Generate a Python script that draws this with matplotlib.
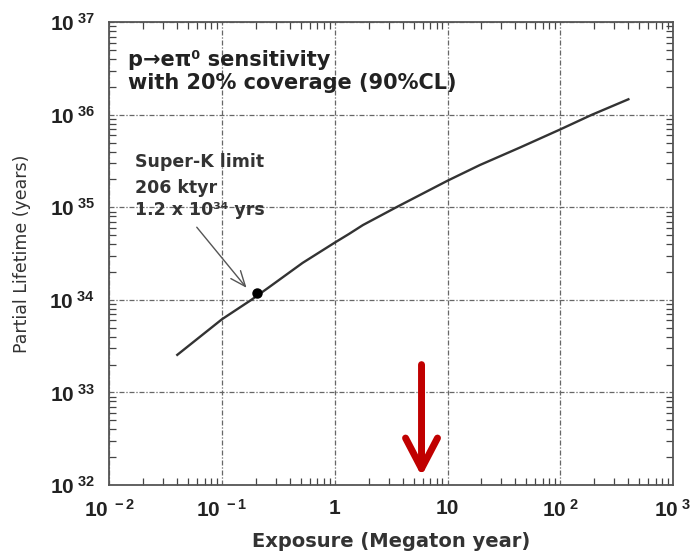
import numpy as np
import matplotlib.pyplot as plt
from matplotlib.ticker import LogLocator, FixedLocator, NullFormatter

plt.rcParams['font.family'] = ['Liberation Sans', 'DejaVu Sans']
plt.rcParams['font.weight'] = 'bold'
plt.rcParams['mathtext.fontset'] = 'custom'
plt.rcParams['mathtext.rm'] = 'Liberation Sans:bold'
plt.rcParams['mathtext.it'] = 'Liberation Sans:bold'
plt.rcParams['mathtext.bf'] = 'Liberation Sans:bold'

WIDE = ['DejaVu Sans']

# sensitivity curve: exposure (Mt yr) vs partial lifetime (years)
exposure = [0.0401, 0.1, 0.1816, 0.263, 0.518, 1.0, 1.337, 1.778, 3.50,
            10.0, 19.3, 44.3, 100.0, 190.5, 401.8]
lifetime = [2.55e33, 6.19e33, 1.0e34, 1.38e34, 2.51e34, 4.16e34, 5.16e34, 6.44e34, 1.0e35,
            1.94e35, 2.86e35, 4.45e35, 6.95e35, 1.0e36, 1.47e36]

# Super-K point
sk_exposure = 0.206
sk_lifetime = 1.2e34

x_ticks = [1e-2, 1e-1, 1, 10, 1e2, 1e3]
x_labels = [r'$10^{\ -2}$', r'$10^{\ -1}$', '1', '10', r'$10^{\ 2}$', r'$10^{\ 3}$']
y_ticks = [1e32, 1e33, 1e34, 1e35, 1e36, 1e37]
y_labels = [r'$10^{\ 32}$', r'$10^{\ 33}$', r'$10^{\ 34}$', r'$10^{\ 35}$', r'$10^{\ 36}$', r'$10^{\ 37}$']

fig = plt.figure(figsize=(6.96, 5.55), dpi=100)
ax = fig.add_axes([0.157, 0.126, 0.810, 0.834])
ax.set_xscale('log')
ax.set_yscale('log')
ax.set_xlim(1e-2, 1e3)
ax.set_ylim(1e32, 1e37)

ax.plot(exposure, lifetime, color='#333333', lw=1.7)
ax.plot([sk_exposure], [sk_lifetime], 'o', color='black', ms=6.5)

ax.xaxis.set_major_locator(FixedLocator(x_ticks))
ax.yaxis.set_major_locator(FixedLocator(y_ticks))
ax.set_xticklabels(x_labels)
ax.set_yticklabels(y_labels)
ax.xaxis.set_minor_locator(LogLocator(base=10, subs=np.arange(2, 10), numticks=20))
ax.yaxis.set_minor_locator(LogLocator(base=10, subs=np.arange(2, 10), numticks=20))
ax.xaxis.set_minor_formatter(NullFormatter())
ax.yaxis.set_minor_formatter(NullFormatter())
ax.tick_params(which='both', direction='in', top=True, right=True, color='#444444')
ax.tick_params(which='major', length=0, labelsize=15, pad=10, labelcolor='#222222')
ax.tick_params(which='minor', length=5, width=0.9)

ax.grid(True, which='major', color='#666666', lw=0.9, linestyle=(0, (4, 1.5, 1, 1.5)))
for s in ax.spines.values():
    s.set_color('#555555')
    s.set_linewidth(1.3)

ax.set_xlabel('Exposure (Megaton year)', family=WIDE, fontsize=14, fontweight='bold',
              color='#333333', labelpad=8)
ax.set_ylabel('Partial Lifetime (years)', family=WIDE, fontsize=12.5, fontweight='normal',
              color='#333333', labelpad=13)

ax.text(0.034, 0.905, 'p→eπ⁰ sensitivity', transform=ax.transAxes, family=WIDE,
        fontsize=15, fontweight='bold', color='#222222', va='baseline')
ax.text(0.034, 0.855, 'with 20% coverage (90%CL)', transform=ax.transAxes, family=WIDE,
        fontsize=15, fontweight='bold', color='#222222', va='baseline')

ax.text(0.046, 0.687, 'Super-K limit', transform=ax.transAxes, family=WIDE,
        fontsize=12.5, fontweight='bold', color='#333333', va='baseline')
ax.text(0.046, 0.630, '206 ktyr', transform=ax.transAxes, family=WIDE,
        fontsize=12.5, fontweight='bold', color='#333333', va='baseline')
ax.text(0.046, 0.583, '1.2 x 10³⁴ yrs', transform=ax.transAxes, family=WIDE,
        fontsize=12.5, fontweight='bold', color='#333333', va='baseline')
ax.annotate('', xy=(0.165, 1.35e34), xytext=(0.0597, 6.1e34),
            arrowprops=dict(arrowstyle='->, head_length=1.1, head_width=0.45',
                            color='#555555', lw=1.0, mutation_scale=10,
                            shrinkA=0, shrinkB=0))

# red marker arrow
ax.annotate('', xy=(5.88, 1.25e32), xytext=(5.88, 2.0e33),
            arrowprops=dict(arrowstyle='->, head_length=2.2, head_width=1.15',
                            color='#c00000', lw=5, mutation_scale=10,
                            shrinkA=0, shrinkB=0))

fig.savefig('out.png', dpi=100)
